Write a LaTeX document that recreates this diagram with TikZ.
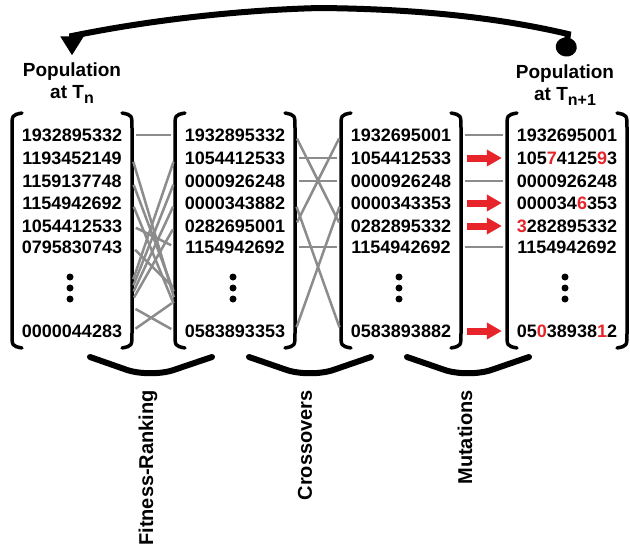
\documentclass[tikz,border=0pt]{standalone}
\usepackage{fontspec}
\setsansfont{Liberation Sans}
\usetikzlibrary{arrows.meta}
\definecolor{mutred}{HTML}{E8242B}
\definecolor{linkgray}{HTML}{8C8C8C}
\newcommand\mut[1]{\textcolor{mutred}{#1}}
\newcommand\subT[1]{T\raisebox{-5pt}{\fontsize{16}{16}\selectfont #1}}

\begin{document}
\begin{tikzpicture}[x=1pt,y=-1pt,
	cell/.style={minimum width=120pt,inner sep=0pt,font=\fontsize{18}{20}\sffamily\bfseries},
	poplabel/.style={align=center,inner sep=0pt,font=\fontsize{19}{22}\sffamily\bfseries},
	steplabel/.style={rotate=90,anchor=east,inner sep=0pt,font=\fontsize{20}{24}\sffamily\bfseries},
	link/.style={linkgray,line width=2.5pt,shorten <=4pt,shorten >=4pt},
	mutarrow/.style={mutred,line width=7pt,shorten <=6pt,shorten >=5pt,-{Triangle[width=16pt,length=15pt]}},
	bracket/.style={line width=3.5pt,line cap=round},
	brace/.style={line width=6pt,line cap=round,rounded corners=25pt}]
	\useasboundingbox (0,0) rectangle (630,551);
	% populations
	\foreach \txt/\ry [count=\i] in {1932895332/135, 1193452149/158, 1159137748/181, 1154942692/203, 1054412533/226, 0795830743/247, 0000044283/331}
	\node[cell] (c1r\i) at (72,\ry) {\txt};
	\foreach \txt/\ry [count=\i] in {1932895332/135, 1054412533/158, 0000926248/181, 0000343882/203, 0282695001/226, 1154942692/247, 0583893353/331}
	\node[cell] (c2r\i) at (235,\ry) {\txt};
	\foreach \txt/\ry [count=\i] in {1932695001/135, 1054412533/158, 0000926248/181, 0000343353/203, 0282895332/226, 1154942692/247, 0583893882/331}
	\node[cell] (c3r\i) at (401,\ry) {\txt};
	\foreach \txt/\ry [count=\i] in {1932695001/135, 105\mut{7}4125\mut{9}3/158, 0000926248/181, 000034\mut{6}353/203, \mut{3}282895332/226, 1154942692/247, 05\mut{0}38938\mut{1}2/331}
	\node[cell] (c4r\i) at (567,\ry) {\txt};
	\foreach \cx in {72,235,401,567} {
		\foreach \dy in {277,288,299}
		\fill (\cx-2,\dy) circle[radius=3.5pt];
		\draw[bracket] (\cx-50,113) .. controls (\cx-60,115) .. (\cx-60,128) -- (\cx-60,333) .. controls (\cx-60,346) .. (\cx-50,348);
		\draw[bracket] (\cx+50,113) .. controls (\cx+60,115) .. (\cx+60,128) -- (\cx+60,333) .. controls (\cx+60,346) .. (\cx+50,348);
	}
	% free ends in the dots region
	\foreach \k/\dy in {1/283,2/289,3/295,4/301,5/307} {
		\coordinate (c1d\k) at (132,\dy);
		\coordinate (c2d\k) at (175,\dy);
	}
	% fitness ranking
	\foreach \a/\b in {c1r1.east/c2r1.west, c1r2.east/c2d4, c1r3.east/c2d3, c1r4.east/c2d5, c1r5.east/c2r6.west, c1r6.east/c2d2, c1d1/c2r2.west, c1d2/c2r3.west, c1d3/c2r4.west, c1d4/c2r5.west, c1d5/c2r7.west, c1r7.east/c2d4}
	\draw[link] (\a) -- (\b);
	% crossovers
	\foreach \a/\b in {1/5, 5/1, 2/2, 3/3, 6/6, 4/7, 7/4}
	\draw[link] (c2r\a.east) -- (c3r\b.west);
	% mutations
	\foreach \i in {1,3,6}
	\draw[link] (c3r\i.east) -- (c4r\i.west);
	\foreach \i in {2,4,5,7}
	\draw[mutarrow] (c3r\i.east) -- (c4r\i.west);
	% labels
	\node[poplabel] (popA) at (72,83) {Population\\at \subT{n}};
	\node[poplabel] (popB) at (565,85) {Population\\at \subT{n+1}};
	\draw[line width=6pt,{Circle[length=19pt,width=21pt]}-{Triangle[width=22pt,length=19pt]}] ([yshift=8pt]popB.north) -- (568,34) .. controls (500,18) and (420,9) .. (320,8) .. controls (240,10) and (150,20) .. (72,36) -- ([yshift=7pt]popA.north);
	\draw[brace] (90,357) -- (150,378) -- (212,357);
	\draw[brace] (249,357) -- (310,378) -- (371,357);
	\draw[brace] (407,357) -- (468,378) -- (529,357);
	\node[steplabel] (rankstep) at (148,390) {Fitness-Ranking};
	\node[steplabel] (crossstep) at (305,390) {Crossovers};
	\node[steplabel] (mutstep) at (465,390) {Mutations};
\end{tikzpicture}
\end{document}
